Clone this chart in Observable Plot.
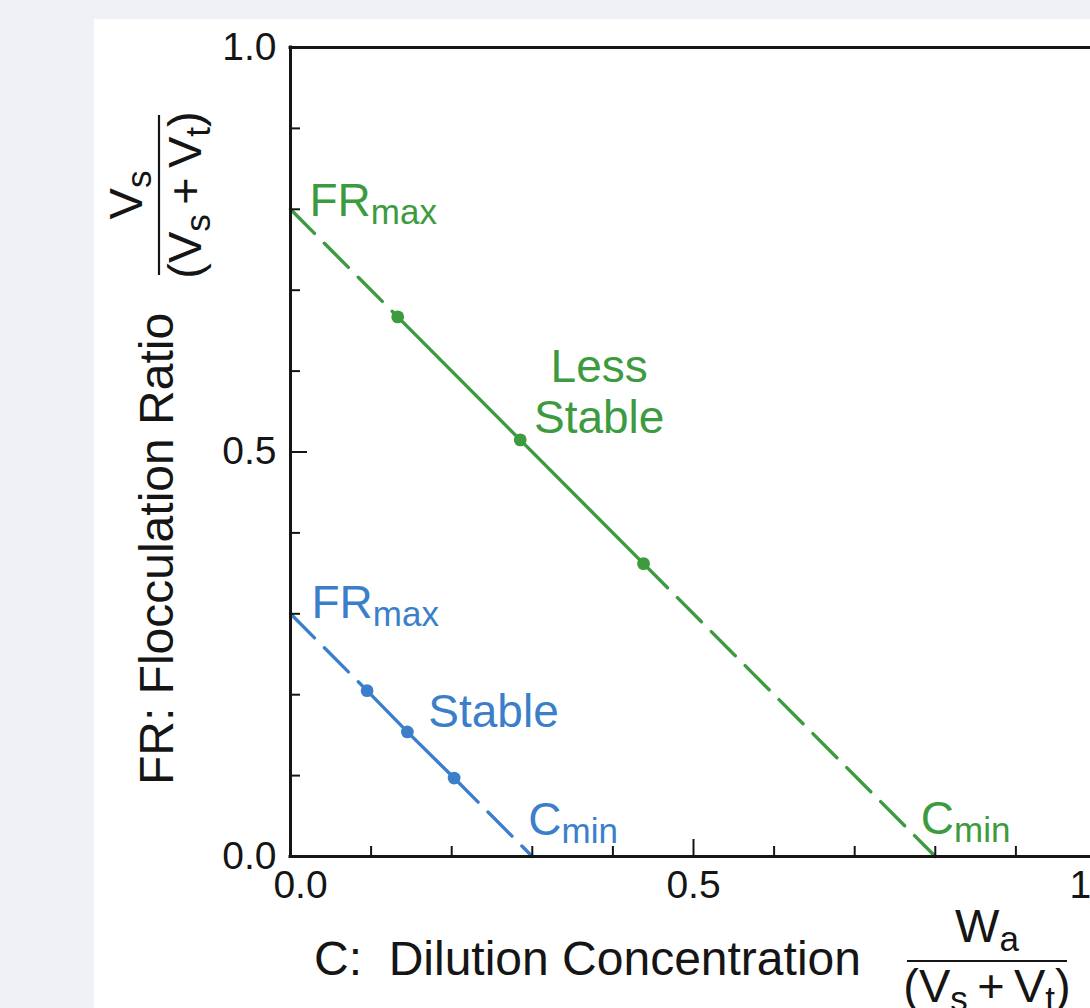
<!DOCTYPE html>
<html>
<head>
<meta charset="utf-8">
<script src="https://cdn.jsdelivr.net/npm/d3@7"></script>
<script src="https://cdn.jsdelivr.net/npm/@observablehq/plot@0.6"></script>
<style>
  html, body { margin: 0; padding: 0; }
  body { width: 1090px; height: 1008px; background: #eff1f6; position: relative; overflow: hidden;
         font-family: "Liberation Sans", Arial, sans-serif; }
  #panel { position: absolute; left: 94px; top: 19px; width: 996px; height: 989px; background: #ffffff; }
  #chart { position: absolute; left: 0; top: 0; }
  #chart svg text { white-space: pre; }
</style>
</head>
<body>
<div id="panel"></div>
<div id="chart"></div>
<script>
// ---------------- data ----------------
const seriesNames = ["Less Stable", "Stable"];
const seriesColors = ["#3d9b3f", "#3b7fcb"];
const frMax = [0.8, 0.3];          // intercept on FR axis
const cMin = [0.8, 0.3];           // intercept on C axis
const lessStableX = [0.133, 0.285, 0.438];
const lessStableY = [0.667, 0.515, 0.362];
const stableX = [0.095, 0.145, 0.203];
const stableY = [0.205, 0.154, 0.097];

const minorTicks = [0.1, 0.2, 0.3, 0.4, 0.6, 0.7, 0.8, 0.9];
const majorTicks = [0.5];
const tickValues = [0, 0.5, 1];
const tickLabels = ["0.0", "0.5", "1.0"];

// annotation labels (text, data position of text anchor, series)
const annText = ["FR_max", "C_min", "FR_max", "Stable", "C_min"];
const annX = [0.0236, 0.782, 0.026, 0.171, 0.295];
const annY = [0.792, 0.0284, 0.2954, 0.1595, 0.026];
const annSeries = [0, 0, 1, 1, 1];
const centerLabelText = ["Less\nStable"];
const centerLabelX = [0.383];
const centerLabelY = [0.524];

const yAxisLabel = "FR: Flocculation Ratio";
const xAxisLabel = "C:  Dilution Concentration";

// ---------------- derived tables ----------------
const ptsX = [lessStableX, stableX];
const ptsY = [lessStableY, stableY];
const points = [];
const solid = [];
const dashed = [];
seriesNames.forEach((s, k) => {
  ptsX[k].forEach((x, i) => {
    points.push({series: s, x, y: ptsY[k][i]});
    solid.push({series: s, x, y: ptsY[k][i]});
  });
  const n = ptsX[k].length;
  dashed.push({seg: s + "a", series: s, x: 0, y: frMax[k]});
  dashed.push({seg: s + "a", series: s, x: ptsX[k][0], y: ptsY[k][0]});
  dashed.push({seg: s + "b", series: s, x: ptsX[k][n - 1], y: ptsY[k][n - 1]});
  dashed.push({seg: s + "b", series: s, x: cMin[k], y: 0});
});
const ann = annText.map((t, i) => ({text: t, x: annX[i], y: annY[i], series: seriesNames[annSeries[i]]}));
const centerAnn = centerLabelText.map((t, i) => ({text: t, x: centerLabelX[i], y: centerLabelY[i], series: seriesNames[0]}));

const ink = "#151515";
const font = "Liberation Sans, Arial, Helvetica, sans-serif";

const chart = Plot.plot({
  width: 1090,
  height: 1008,
  marginLeft: 290,
  marginRight: 0,
  marginTop: 47,
  marginBottom: 152,
  style: {background: "transparent", fontFamily: font, color: ink, overflow: "hidden"},
  x: {domain: [0, 1], range: [290, 1096], axis: null},
  y: {domain: [0, 1], range: [856, 47], axis: null},
  color: {domain: seriesNames, range: seriesColors},
  marks: [
    // dashed extrapolations
    Plot.line(dashed, {x: "x", y: "y", z: "seg", stroke: "series", strokeWidth: 3.4, strokeDasharray: "34,14"}),
    // solid measured segments
    Plot.line(solid, {x: "x", y: "y", z: "series", stroke: "series", strokeWidth: 3.4}),
    Plot.dot(points, {x: "x", y: "y", fill: "series", r: 6.4}),
    // frame
    Plot.ruleY([0, 1], {stroke: ink, strokeWidth: 3, strokeLinecap: "square"}),
    Plot.ruleX([0], {stroke: ink, strokeWidth: 3, strokeLinecap: "square"}),
    // inward ticks
    Plot.axisX(minorTicks, {anchor: "bottom", tickSize: -10, tickFormat: () => "", label: null, stroke: ink, strokeWidth: 2}),
    Plot.axisX(majorTicks, {anchor: "bottom", tickSize: -17, tickFormat: () => "", label: null, stroke: ink, strokeWidth: 2}),
    Plot.axisY(minorTicks, {anchor: "left", tickSize: -10, tickFormat: () => "", label: null, stroke: ink, strokeWidth: 2}),
    Plot.axisY(majorTicks, {anchor: "left", tickSize: -17, tickFormat: () => "", label: null, stroke: ink, strokeWidth: 2}),
    // tick labels
    Plot.text(tickValues, {y: d => d, text: (d, i) => tickLabels[i], frameAnchor: "left", textAnchor: "end",
      lineAnchor: "middle", dx: -14, fontSize: 39, fill: ink}),
    Plot.text(tickValues.slice(1), {x: d => d, text: (d, i) => tickLabels[i + 1], frameAnchor: "bottom",
      lineAnchor: "middle", dy: 29, fontSize: 39, fill: ink}),
    Plot.text(tickValues.slice(0, 1), {x: d => d, text: (d, i) => tickLabels[i], frameAnchor: "bottom",
      lineAnchor: "middle", dy: 29, dx: 10, fontSize: 39, fill: ink}),
    // annotations
    Plot.text(ann, {x: "x", y: "y", text: "text", fill: "series", textAnchor: "start", lineAnchor: "bottom", fontSize: 46}),
    Plot.text(centerAnn, {x: "x", y: "y", text: "text", fill: "series", textAnchor: "middle", lineAnchor: "bottom",
      fontSize: 46, lineHeight: 1.09})
  ]
});

document.getElementById("chart").appendChild(chart);

// subscripts in annotations: "BASE_sub"
const svg = d3.select(chart.tagName.toLowerCase() === "svg" ? chart : chart.querySelector("svg"));
svg.selectAll("text").each(function () {
  const t = this.textContent;
  if (t.includes("_") && !this.querySelector("tspan")) {
    const [base, sub] = t.split("_");
    const sel = d3.select(this);
    sel.text(null);
    sel.append("tspan").text(base);
    sel.append("tspan").attr("font-size", 35).attr("dy", 8).text(sub);
  }
});

// axis titles (with fraction labels)
const titles = svg.append("g").attr("font-family", font).attr("fill", ink);

function richText(g, parts, size, subSize, subShift) {
  const t = g.append("text").attr("text-anchor", "middle").attr("font-size", size);
  let shifted = 0;
  parts.forEach(([s, isSub]) => {
    const target = isSub ? subShift : 0;
    t.append("tspan").attr("font-size", isSub ? subSize : size).attr("dy", target - shifted).text(s);
    shifted = target;
  });
  return t;
}

function fraction(cx, cy, angle, num, den, halfWidth, numOffset, denOffset) {
  const g = titles.append("g").attr("transform", `translate(${cx},${cy}) rotate(${angle})`);
  g.append("line").attr("x1", -halfWidth).attr("x2", halfWidth).attr("y1", 0).attr("y2", 0)
    .attr("stroke", ink).attr("stroke-width", 2.2);
  richText(g, num, 47, 35, 9).attr("y", -numOffset);
  richText(g, den, 47, 35, 9).attr("y", denOffset);
}

// x title
titles.append("text").attr("x", 314).attr("y", 975).attr("font-size", 48).attr("text-anchor", "start")
  .attr("xml:space", "preserve").style("white-space", "pre").text(xAxisLabel);
fraction(987, 961, 0,
  [["W", false], ["a", true]],
  [["(V", false], ["s", true], ["\u2009+\u2009V", false], ["t", true], [")", false]],
  80, 19, 41);

// y title
titles.append("text").attr("transform", "translate(173,549) rotate(-90)").attr("text-anchor", "middle")
  .attr("font-size", 48).text(yAxisLabel);
fraction(159, 195, -90,
  [["V", false], ["s", true]],
  [["(V", false], ["s", true], ["\u2009+\u2009V", false], ["t", true], [")", false]],
  80, 17, 42);
</script>
</body>
</html>
